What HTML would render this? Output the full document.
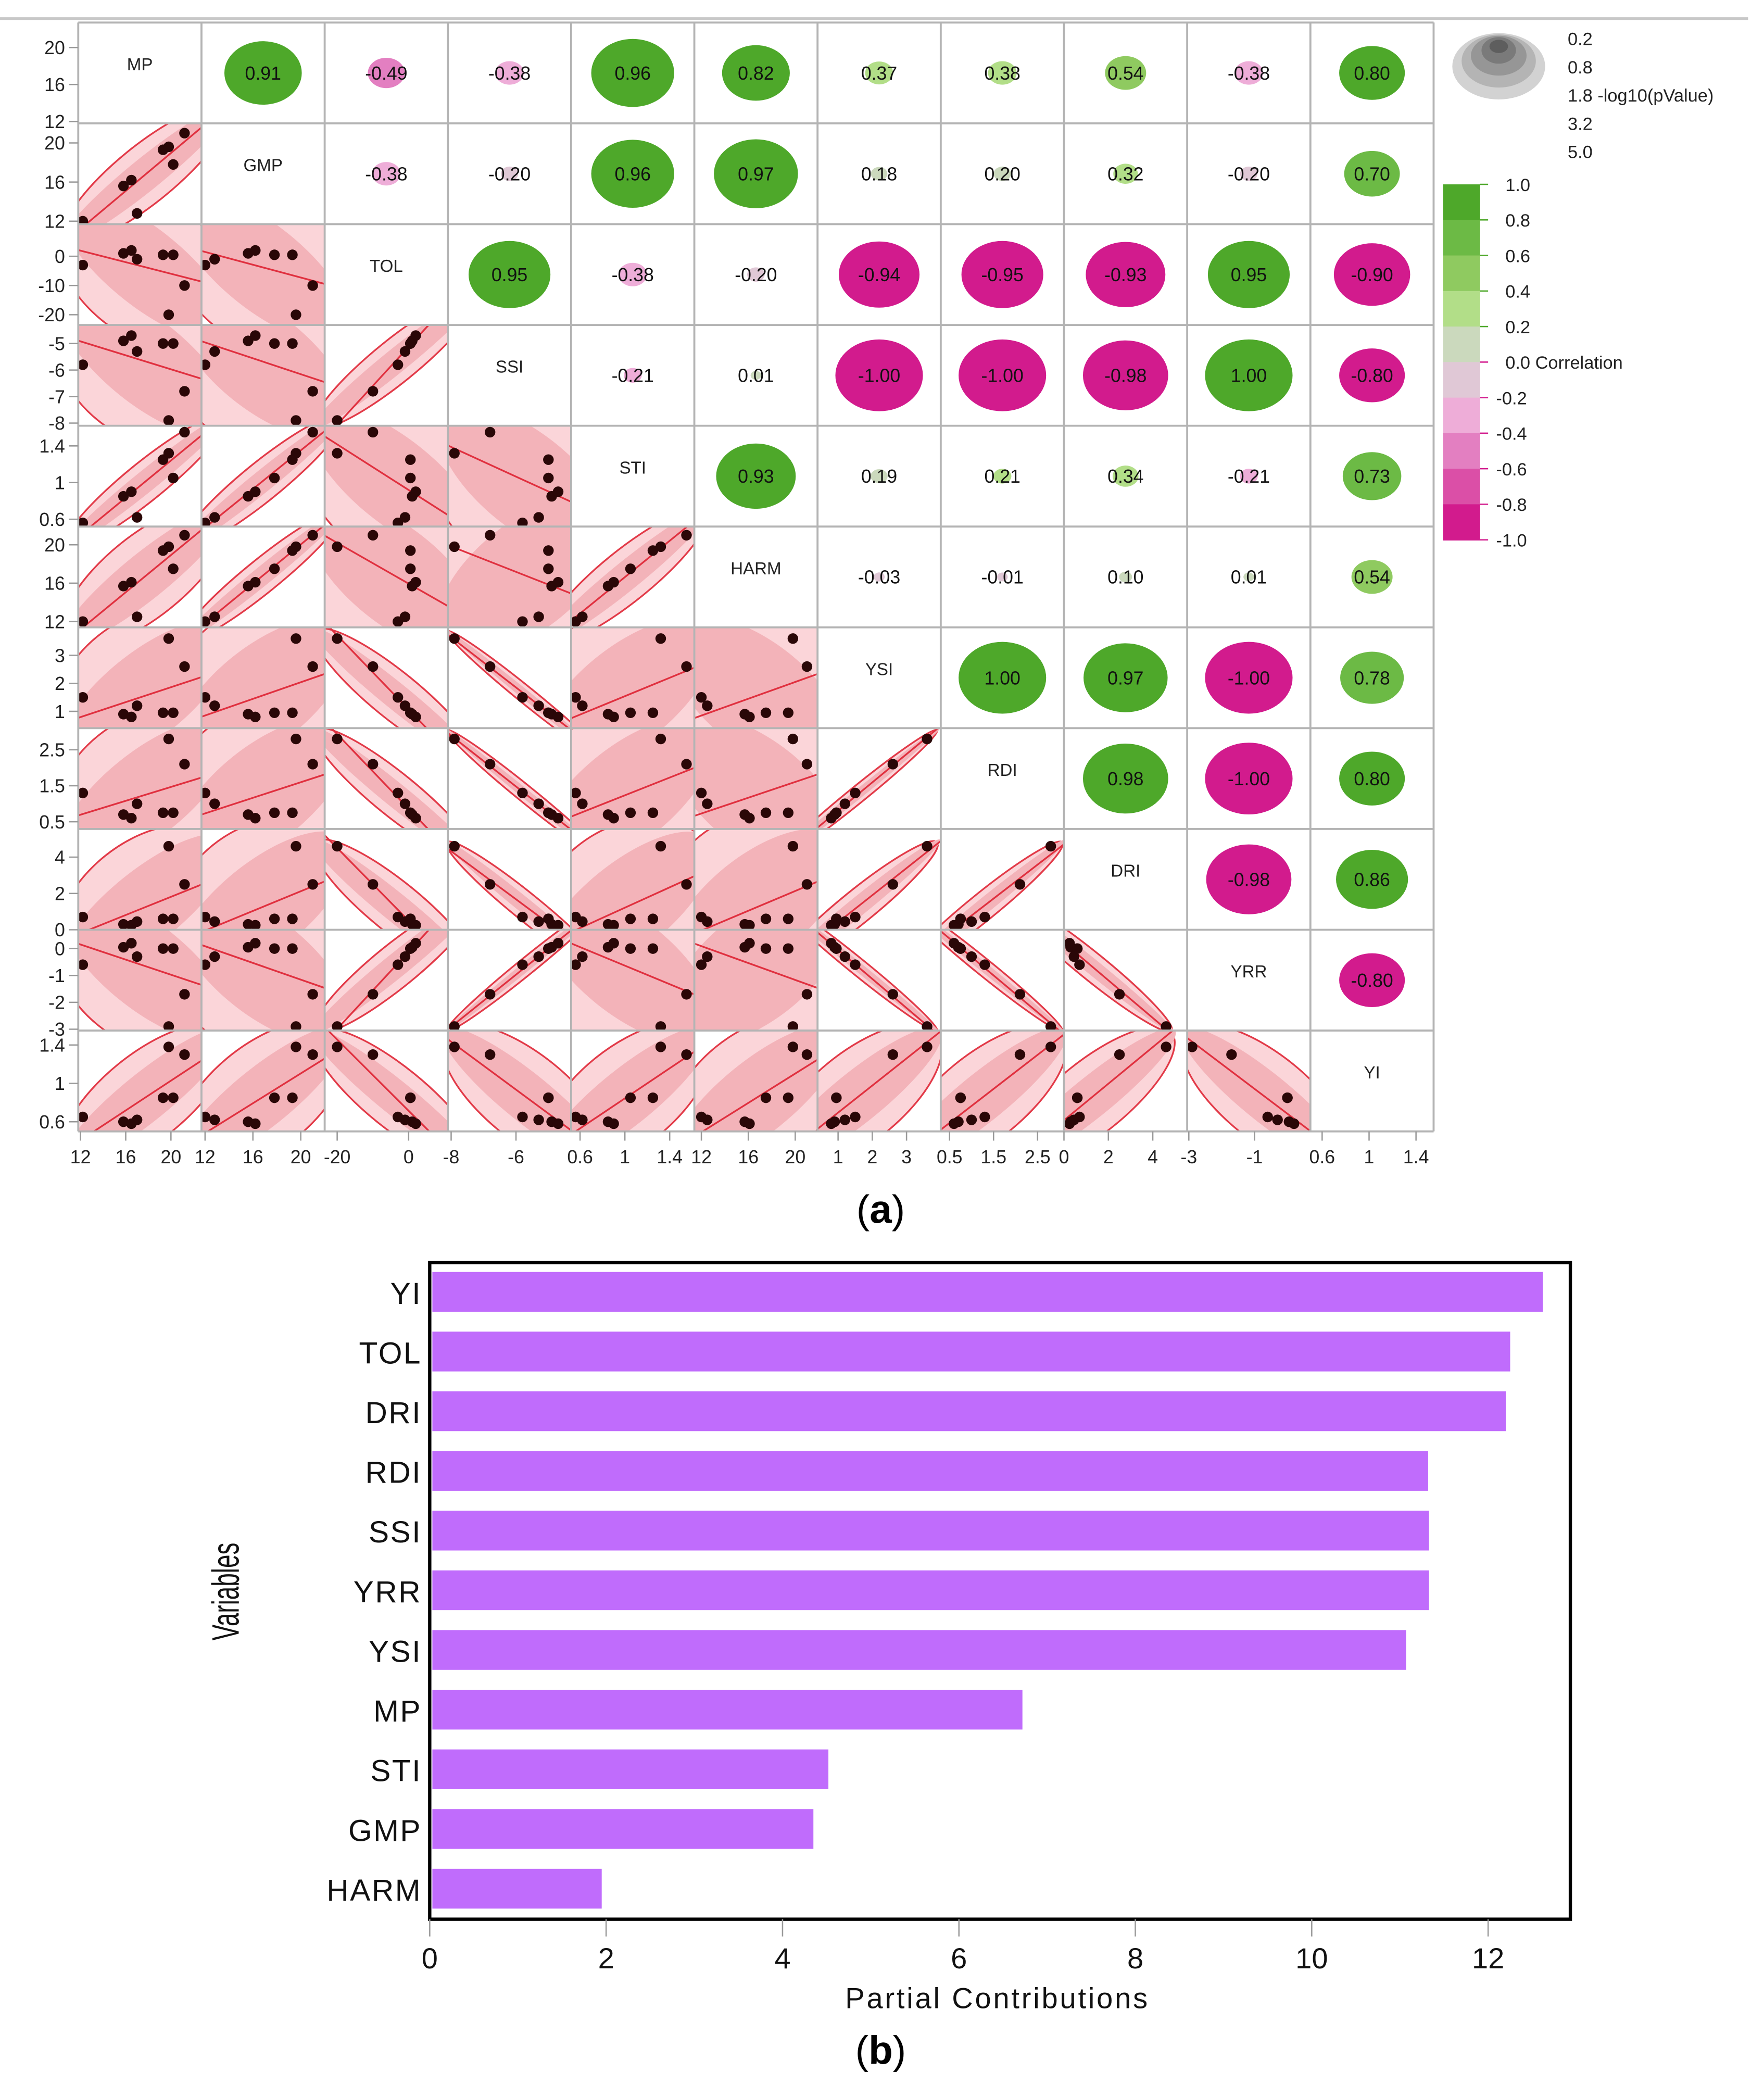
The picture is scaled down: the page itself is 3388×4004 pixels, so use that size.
<!DOCTYPE html>
<html><head><meta charset="utf-8"><style>
html,body{margin:0;padding:0;background:#fff;}
svg{display:block;}
text{font-family:"Liberation Sans","DejaVu Sans",sans-serif;}
</style></head><body>
<svg id="fig" xmlns="http://www.w3.org/2000/svg" width="3388" height="4004" viewBox="0 0 1330 1572" preserveAspectRatio="none">
<line x1="0" y1="14" x2="1318" y2="14" stroke="#c8c8c8" stroke-width="2"/>
<g id="matrix"></g>
<g id="legend"></g>
<text x="664" y="922" font-size="30" text-anchor="middle" font-family="Liberation Serif,serif">(<tspan font-weight="bold">a</tspan>)</text>
<g id="bars"></g>
<text x="664" y="1556" font-size="30" text-anchor="middle" font-family="Liberation Serif,serif">(<tspan font-weight="bold">b</tspan>)</text>
</svg>
<script>
const NS="http://www.w3.org/2000/svg";
const vars=["MP","GMP","TOL","SSI","STI","HARM","YSI","RDI","DRI","YRR","YI"];
const corrUpper=[
[0.91,-0.49,-0.38,0.96,0.82,0.37,0.38,0.54,-0.38,0.80],
[-0.38,-0.20,0.96,0.97,0.18,0.20,0.32,-0.20,0.70],
[0.95,-0.38,-0.20,-0.94,-0.95,-0.93,0.95,-0.90],
[-0.21,0.01,-1.00,-1.00,-0.98,1.00,-0.80],
[0.93,0.19,0.21,0.34,-0.21,0.73],
[-0.03,-0.01,0.10,0.01,0.54],
[1.00,0.97,-1.00,0.78],
[0.98,-1.00,0.80],
[-0.98,0.86],
[-0.80]];
const ranges=[[11.8,22.7],[11.7,22],[-23.5,11],[-8.1,-4.3],[0.52,1.62],[11.4,21.9],[0.4,4.0],[0.3,3.1],[0,5.55],[-3.05,0.7],[0.5,1.55]];
const yTicks=[[12,16,20],[12,16,20],[-20,-10,0],[-8,-7,-6,-5],[0.6,1,1.4],[12,16,20],[1,2,3],[0.5,1.5,2.5],[0,2,4],[-3,-2,-1,0],[0.6,1,1.4]];
const xTicks=[[12,16,20],[12,16,20],[-20,0],[-8,-6],[0.6,1,1.4],[12,16,20],[1,2,3],[0.5,1.5,2.5],[0,2,4],[-3,-1],[0.6,1,1.4]];
const gMP=[12.2,15.8,16.5,17.0,19.3,19.8,20.2,21.2];
const gGMP=[12.0,15.6,16.2,12.8,19.3,19.6,17.8,21.0];
const gTOL=[-3,1,2,-1,0.5,-20,0.5,-10];
const gSSI=[-5.8,-4.9,-4.7,-5.3,-5.0,-7.9,-5.0,-6.8];
const gSTI=[0.56,0.85,0.9,0.62,1.25,1.32,1.05,1.55];
const gHARM=[12.0,15.7,16.1,12.5,19.4,19.8,17.5,21.0];
const gYSI=[1.5,0.9,0.8,1.2,0.95,3.6,0.95,2.6];
const gRDI=[1.3,0.7,0.6,1.0,0.75,2.8,0.75,2.1];
const gDRI=[0.7,0.3,0.25,0.45,0.6,4.6,0.6,2.5];
const gYRR=[-0.6,0.05,0.2,-0.3,0.0,-2.9,0.0,-1.7];
const gYI=[0.65,0.6,0.58,0.62,0.85,1.38,0.85,1.3];
const geno=[gMP,gGMP,gTOL,gSSI,gSTI,gHARM,gYSI,gRDI,gDRI,gYRR,gYI];

const X0=59,Y0=17,CW=92.9,CH=76,N=11;
function mk(tag,attrs,parent){const e=document.createElementNS(NS,tag);for(const k in attrs)e.setAttribute(k,attrs[k]);parent.appendChild(e);return e;}
function corr(i,j){if(i===j)return 1;const a=Math.min(i,j),b=Math.max(i,j);return corrUpper[a][b-a-1];}
function xs(j,v){const r=ranges[j];return X0+j*CW+(v-r[0])/(r[1]-r[0])*CW;}
function ys(i,v){const r=ranges[i];return Y0+(i+1)*CH-(v-r[0])/(r[1]-r[0])*CH;}
function color(r){const c=["#d21b8d","#db4fa7","#e37fc1","#eeadd8","#e0c8d6","#cbd9bd","#b2de88","#8fca60","#6cba45","#4ea82a"];let k=Math.floor((r+1)/0.2);if(k>9)k=9;if(k<0)k=0;return c[k];}
function rad(r){const a=Math.abs(r);return 4+29*Math.pow(a,1.5);}
const M=document.getElementById("matrix");
const defs=mk("defs",{},M);
for(let i=0;i<N;i++){for(let j=0;j<N;j++){
  const x=X0+j*CW,y=Y0+i*CH,cx=x+CW/2,cy=y+CH/2;
  const g=mk("g",{},M);
  
  
  if(i===j){
    const t=mk("text",{x:cx,y:cy-2,"font-size":13,"text-anchor":"middle",fill:"#222"},g);t.textContent=vars[i];
    
    
  } else if(j>i){
    const r=corr(i,j),R=rad(r);
    const e=mk("ellipse",{cx:cx,cy:cy,rx:R*1.0,ry:R*0.82,fill:color(r)},g);
    
    
    const t=mk("text",{x:cx,y:cy+5,"font-size":14,"text-anchor":"middle",fill:"#111"},g);
    t.textContent=r.toFixed(2);
    
    
  } else {
    const r=corr(i,j);
    const cp=mk("clipPath",{id:"c"+i+"_"+j},defs);mk("rect",{x:x,y:y,width:CW,height:CH},cp);
    const gg=mk("g",{"clip-path":"url(#c"+i+"_"+j+")"},g);
    const xv=geno[j],yv=geno[i],n=xv.length;
    let mx=0,my=0;for(let k=0;k<n;k++){mx+=xs(j,xv[k]);my+=ys(i,yv[k]);}mx/=n;my/=n;
    const ang=(r>0?-1:1)*39, a=62, b=Math.max(5,58*Math.sqrt(1-Math.abs(r)));
    const el=mk("ellipse",{cx:mx,cy:my,rx:a*1.25,ry:b*1.25,fill:"#fbd5d9",stroke:"#e23a48","stroke-width":1.3,transform:"rotate("+ang+" "+mx+" "+my+")"},gg);
    
    
    const el2=mk("ellipse",{cx:mx,cy:my,rx:a*1.3,ry:b*0.7,fill:"#f3b3b9",transform:"rotate("+ang+" "+mx+" "+my+")"},gg);
    
    
    let sxx=0,sxy=0,mxv=0,myv=0;for(let k=0;k<n;k++){mxv+=xv[k];myv+=yv[k];}mxv/=n;myv/=n;
    for(let k=0;k<n;k++){sxx+=(xv[k]-mxv)**2;sxy+=(xv[k]-mxv)*(yv[k]-myv);}
    const sl=sxy/sxx,r0=ranges[j];
    const ln=mk("line",{x1:xs(j,r0[0]),y1:ys(i,myv+sl*(r0[0]-mxv)),x2:xs(j,r0[1]),y2:ys(i,myv+sl*(r0[1]-mxv)),stroke:"#e0303f","stroke-width":1.3},gg);
    
    
    for(let k=0;k<n;k++){
      const d=mk("circle",{cx:xs(j,xv[k]),cy:ys(i,yv[k]),r:4,fill:"#2a0707"},gg);
      
      
    }
  }
}}
for(let k=0;k<=N;k++){
  mk("line",{x1:X0+k*CW,y1:Y0,x2:X0+k*CW,y2:Y0+N*CH,stroke:"#b4b4b4","stroke-width":1.5},M);
  mk("line",{x1:X0,y1:Y0+k*CH,x2:X0+N*CW,y2:Y0+k*CH,stroke:"#b4b4b4","stroke-width":1.5},M);
}
for(let i=0;i<N;i++){yTicks[i].forEach(v=>{const y=ys(i,v);
  mk("line",{x1:X0-7,y1:y,x2:X0,y2:y,stroke:"#999","stroke-width":1},M);
  const t=mk("text",{x:X0-10,y:y+5,"font-size":14,"text-anchor":"end",fill:"#222"},M);t.textContent=v;
  
  
});}
for(let j=0;j<N;j++){xTicks[j].forEach(v=>{const x=xs(j,v);
  mk("line",{x1:x,y1:Y0+N*CH,x2:x,y2:Y0+N*CH+7,stroke:"#999","stroke-width":1},M);
  const t=mk("text",{x:x,y:Y0+N*CH+24,"font-size":14,"text-anchor":"middle",fill:"#222"},M);t.textContent=v;
  
  
});}
const L=document.getElementById("legend");
[["#d2d2d2",35,25,0],["#b4b4b4",28,20,-4],["#969696",21,15,-8],["#7a7a7a",13,10,-12],["#5e5e5e",7,5,-15]].forEach(s=>mk("ellipse",{cx:1130,cy:50+s[3]+0,rx:s[1],ry:s[2],fill:s[0]},L));
const pLab=["0.2","0.8","1.8 -log10(pValue)","3.2","5.0"];
pLab.forEach((s,k)=>{const t=mk("text",{x:1182,y:34+k*21.3,"font-size":13.5,fill:"#222"},L);t.textContent=s;
  
  });
const cbCols=["#4ea82a","#6cba45","#8fca60","#b2de88","#cbd9bd","#e0c8d6","#eeadd8","#e37fc1","#db4fa7","#d21b8d"];
const cbLab=["1.0","0.8","0.6","0.4","0.2","0.0 Correlation","-0.2","-0.4","-0.6","-0.8","-1.0"];
cbCols.forEach((c,k)=>mk("rect",{x:1088,y:139+k*26.8,width:28,height:27.3,fill:c},L));
cbLab.forEach((s,k)=>{const t=mk("text",{x:s[0]==="-"?1128:1135,y:144+k*26.8,"font-size":13.5,fill:"#222"},L);t.textContent=s;
  mk("line",{x1:1116,y1:139+k*26.8,x2:1122,y2:139+k*26.8,stroke:k<5?"#4ea82a":"#d21b8d"},L);
  
  });

const barLabels=["YI","TOL","DRI","RDI","SSI","YRR","YSI","MP","STI","GMP","HARM"];
const barValues=[12.62,12.25,12.2,11.32,11.33,11.33,11.07,6.72,4.52,4.35,1.95];
const axisTicks=[0,2,4,6,8,10,12];
const B=document.getElementById("bars");
const bx=v=>324+v*66.5, PT=952, STEP=45;
barLabels.forEach((s,k)=>{const yc=PT+22+k*STEP;
  const r=mk("rect",{x:bx(0)+2,y:yc-15,width:bx(barValues[k])-bx(0)-2,height:30,fill:"#c06cfc"},B);
  
  
  const t=mk("text",{x:318,y:yc+9,"font-size":23,"text-anchor":"end",fill:"#111","letter-spacing":"1"},B);t.textContent=s;
  
  
});
mk("rect",{x:324,y:PT,width:860,height:495,fill:"none",stroke:"#000","stroke-width":2.5},B);
axisTicks.forEach(v=>{mk("line",{x1:bx(v),y1:1447,x2:bx(v),y2:1460,stroke:"#999","stroke-width":1},B);
  const t=mk("text",{x:bx(v),y:1484,"font-size":22,"text-anchor":"middle",fill:"#111"},B);t.textContent=v;
  
  });
const xt=mk("text",{x:752,y:1514,"font-size":22,"text-anchor":"middle",fill:"#111","letter-spacing":"1.5"},B);xt.textContent="Partial Contributions";


const yt=mk("text",{x:0,y:0,"font-size":24,"text-anchor":"middle",fill:"#111",transform:"translate(180,1200) rotate(-90) scale(0.75,1.2)"},B);yt.textContent="Variables";


</script>
</body></html>
